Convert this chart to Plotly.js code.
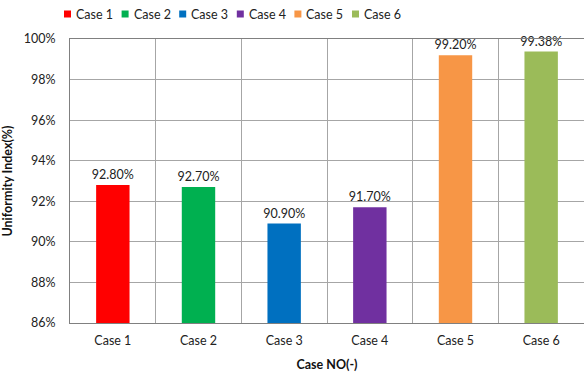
<!DOCTYPE html>
<html>
<head>
<meta charset="utf-8">
<script src="https://cdn.plot.ly/plotly-3.0.1.min.js"></script>
<style>
  html, body { margin: 0; padding: 0; background: #fff; }
  #chart { width: 584px; height: 374px; }
</style>
</head>
<body>
<div id="chart"></div>
<script>
// Uniformity index per case
const cases = ['Case 1', 'Case 2', 'Case 3', 'Case 4', 'Case 5', 'Case 6'];
const uniformity = [92.80, 92.70, 90.90, 91.70, 99.20, 99.38];
const barColors = ['#FF0000', '#00B050', '#0070C0', '#7030A0', '#F79646', '#9BBB59'];
const yTicks = [86, 88, 90, 92, 94, 96, 98, 100];

const FONT = 'Lato, "Open Sans", sans-serif';
const FS = 12.5;
const W = 584, H = 374;
const M = { l: 70, r: 0, t: 39, b: 51 };
const plotW = W - M.l - M.r, plotH = H - M.t - M.b;
const idx = cases.map((_, i) => i);

// pixel position -> paper coordinates (used for the key row above the plot)
const px2x = px => (px - M.l) / plotW;
const py2y = py => (H - M.b - py) / plotH;

// one bar trace per case
const traces = cases.map((name, i) => ({
  type: 'bar',
  name: name,
  x: [i],
  y: [uniformity[i]],
  width: 0.39,
  marker: { color: barColors[i] },
  text: [uniformity[i].toFixed(2) + '%'],
  textposition: 'outside',
  constraintext: 'none',
  textfont: { family: FONT, size: FS, color: '#222' },
  cliponaxis: false,
  showlegend: false,
  hoverinfo: 'skip'
}));

// invisible helper trace to carry the category-boundary grid axis
traces.push({
  type: 'scatter', x: [0], y: [86], xaxis: 'x2', mode: 'markers',
  marker: { opacity: 0 }, showlegend: false, hoverinfo: 'skip'
});

// key row: small colour square followed by the case name
const KEY_X0 = 64, KEY_STEP = 57.6, KEY_Y = 14, KEY_SQ = 7;
const keyShapes = cases.map((_, i) => ({
  type: 'rect', xref: 'paper', yref: 'paper', layer: 'above',
  x0: px2x(KEY_X0 + i * KEY_STEP), x1: px2x(KEY_X0 + i * KEY_STEP + KEY_SQ),
  y0: py2y(KEY_Y + KEY_SQ / 2), y1: py2y(KEY_Y - KEY_SQ / 2),
  fillcolor: barColors[i], line: { width: 0 }
}));
const keyLabels = cases.map((name, i) => ({
  xref: 'paper', yref: 'paper',
  x: px2x(KEY_X0 + i * KEY_STEP + KEY_SQ + 3), y: py2y(KEY_Y),
  xanchor: 'left', yanchor: 'middle',
  text: name, showarrow: false,
  font: { family: FONT, size: FS, color: '#222' }
}));

const xRange = [-0.5, cases.length - 0.5];

const layout = {
  width: W,
  height: H,
  margin: { l: M.l, r: M.r, t: M.t, b: M.b, autoexpand: false },
  paper_bgcolor: '#fff',
  plot_bgcolor: '#fff',
  barmode: 'overlay',
  font: { family: FONT, size: FS, color: '#222' },
  showlegend: false,
  shapes: keyShapes,
  annotations: keyLabels,
  xaxis: {
    range: xRange,
    tickvals: idx,
    ticktext: cases,
    showgrid: false,
    zeroline: false,
    showline: true,
    linecolor: '#808080',
    linewidth: 1,
    mirror: true,
    ticks: '',
    ticklabelstandoff: 6,
    automargin: false,
    tickfont: { family: FONT, size: FS, color: '#222' },
    title: { text: 'Case NO(-)', font: { family: FONT, size: FS, color: '#111', weight: 'bold' }, standoff: 13 },
    fixedrange: true
  },
  xaxis2: {
    overlaying: 'x',
    range: xRange,
    tick0: -0.5,
    dtick: 1,
    showgrid: true,
    gridcolor: '#a6a6a6',
    gridwidth: 1,
    showticklabels: false,
    zeroline: false,
    ticks: '',
    side: 'bottom'
  },
  yaxis: {
    range: [86, 100],
    tickvals: yTicks,
    ticktext: yTicks.map(v => v + '%'),
    showgrid: true,
    gridcolor: '#a6a6a6',
    gridwidth: 1,
    zeroline: false,
    showline: true,
    linecolor: '#808080',
    linewidth: 1,
    mirror: true,
    ticks: '',
    ticklabelstandoff: 11,
    automargin: false,
    tickfont: { family: FONT, size: FS, color: '#222' },
    title: { text: 'Uniformity Index(%)', font: { family: FONT, size: FS, color: '#111', weight: 'bold' }, standoff: 8 },
    fixedrange: true
  }
};

Plotly.newPlot('chart', traces, layout, { displayModeBar: false, staticPlot: true });
</script>
</body>
</html>
